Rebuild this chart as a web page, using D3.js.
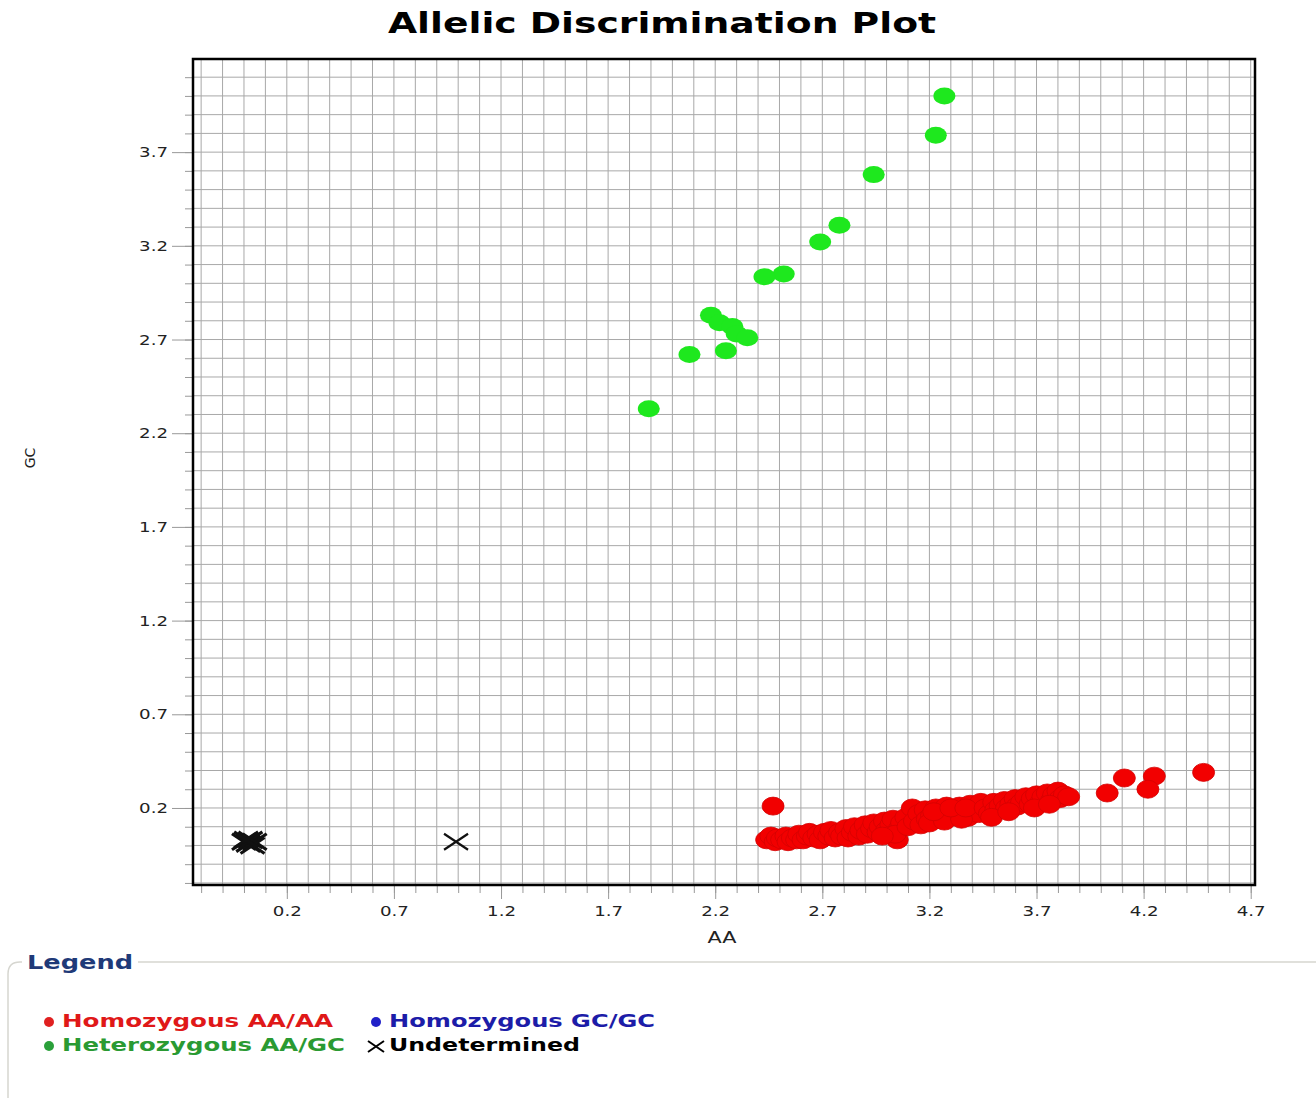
<!DOCTYPE html>
<html>
<head>
<meta charset="utf-8">
<script src="https://cdn.jsdelivr.net/npm/d3@7/dist/d3.min.js"></script>
<style>
body { margin: 0; background: #fff; }
text { font-family: "DejaVu Sans", Verdana, sans-serif; }
</style>
</head>
<body>
<div class="d3-container"></div>
<script>
// AA (x) / GC (y) readings per call
const homozygousAA = [
    [2.44, 0.03], [2.46, 0.05], [2.48, 0.02], [2.49, 0.04], [2.51, 0.03], [2.53, 0.05], [2.54, 0.02], [2.56, 0.04],
    [2.58, 0.03], [2.59, 0.06], [2.61, 0.03], [2.63, 0.05], [2.64, 0.07], [2.66, 0.04], [2.68, 0.06], [2.69, 0.03],
    [2.71, 0.07], [2.73, 0.05], [2.74, 0.08], [2.76, 0.04], [2.78, 0.07], [2.79, 0.05],
    [2.81, 0.09], [2.82, 0.04], [2.84, 0.07], [2.85, 0.10], [2.87, 0.05], [2.88, 0.08], [2.90, 0.11], [2.91, 0.06],
    [2.93, 0.09], [2.94, 0.12], [2.96, 0.07], [2.97, 0.10], [2.99, 0.13], [3.00, 0.08], [3.02, 0.11], [3.03, 0.14],
    [3.05, 0.03], [3.06, 0.09], [3.07, 0.12], [3.04, 0.06], [2.98, 0.05],
    [3.09, 0.15], [3.10, 0.10], [3.12, 0.20], [3.13, 0.13], [3.15, 0.17], [3.16, 0.11], [3.18, 0.19], [3.19, 0.14],
    [3.21, 0.16], [3.23, 0.20], [3.24, 0.14], [3.26, 0.18], [3.28, 0.21], [3.29, 0.15], [3.31, 0.19], [3.33, 0.16],
    [3.34, 0.21], [3.36, 0.18], [3.38, 0.15], [3.39, 0.22], [3.41, 0.19], [3.43, 0.17], [3.44, 0.23],
    [3.20, 0.12], [3.27, 0.13], [3.35, 0.14], [3.22, 0.18], [3.30, 0.20], [3.37, 0.20],
    [3.46, 0.20], [3.48, 0.17], [3.50, 0.23], [3.51, 0.19], [3.53, 0.21], [3.55, 0.24], [3.56, 0.20], [3.58, 0.22],
    [3.60, 0.25], [3.61, 0.21], [3.63, 0.23], [3.49, 0.15], [3.57, 0.18],
    [3.65, 0.26], [3.67, 0.22], [3.68, 0.25], [3.70, 0.27], [3.72, 0.23], [3.73, 0.26], [3.75, 0.28], [3.77, 0.24],
    [3.78, 0.27], [3.80, 0.29], [3.81, 0.25], [3.83, 0.27], [3.85, 0.26], [3.69, 0.20], [3.76, 0.22],
    [2.47, 0.21], [4.03, 0.28], [4.11, 0.36], [4.25, 0.37], [4.22, 0.30], [4.48, 0.39]
]
const heterozygous = [
    [3.27, 4.00], [3.23, 3.79], [2.94, 3.58], [2.78, 3.31], [2.69, 3.22], [2.52, 3.05], [2.43, 3.035],
    [2.18, 2.83], [2.22, 2.79], [2.28, 2.77], [2.30, 2.73], [2.35, 2.71], [2.25, 2.64], [2.08, 2.62], [1.89, 2.33]
]
const homozygousGC = []
const undetermined = [
    [0.00, 0.02], [0.02, 0.01], [0.03, 0.03], [0.05, 0.02], [0.04, 0.00], [0.01, 0.03], [0.99, 0.02]
]

const xTicks = [0.2, 0.7, 1.2, 1.7, 2.2, 2.7, 3.2, 3.7, 4.2, 4.7]
const yTicks = [0.2, 0.7, 1.2, 1.7, 2.2, 2.7, 3.2, 3.7]
const legendItems = [
    { label: "Homozygous AA/AA", color: "#e01818", dot: "#e02020", col: 0, row: 0 },
    { label: "Homozygous GC/GC", color: "#1c1ca8", dot: "#2020c8", col: 1, row: 0 },
    { label: "Heterozygous AA/GC", color: "#2a9a32", dot: "#2aa03a", col: 0, row: 1 },
    { label: "Undetermined", color: "#000", dot: null, col: 1, row: 1 }
]

const W = 1316, H = 1098
const plot = { left: 193, right: 1255, top: 59, bottom: 885 }

const svg = d3.select(".d3-container").append("svg").attr("width", W).attr("height", H)

const x = d3.scaleLinear().domain([-0.238, 4.72]).range([plot.left, plot.right])
const y = d3.scaleLinear().domain([-0.211, 4.197]).range([plot.bottom, plot.top])

// 0.1 step grid
const xGrid = d3.range(-2, 48).map(d => d / 10)
const yGrid = d3.range(-2, 42).map(d => d / 10)

const grid = svg.append("g").attr("stroke", "#a8a8a8").attr("stroke-width", 1)
grid.selectAll(".gx").data(xGrid).join("line")
    .attr("x1", d => x(d)).attr("x2", d => x(d)).attr("y1", plot.top).attr("y2", plot.bottom)
grid.selectAll(".gy").data(yGrid).join("line")
    .attr("x1", plot.left).attr("x2", plot.right).attr("y1", d => y(d)).attr("y2", d => y(d))

// minor ticks
svg.append("g").attr("transform", `translate(0,${plot.bottom})`)
    .call(d3.axisBottom(x).tickValues(xGrid).tickSize(8).tickFormat(""))
    .call(g => g.select(".domain").remove())
    .selectAll("line").attr("stroke", "#999")
svg.append("g").attr("transform", `translate(${plot.left},0)`)
    .call(d3.axisLeft(y).tickValues(yGrid).tickSize(8).tickFormat(""))
    .call(g => g.select(".domain").remove())
    .selectAll("line").attr("stroke", "#999")

const xAxis = svg.append("g").attr("transform", `translate(0,${plot.bottom})`)
    .call(d3.axisBottom(x).tickValues(xTicks).tickSize(14).tickPadding(7).tickFormat(d3.format(".1f")))
xAxis.select(".domain").remove()
xAxis.selectAll("line").attr("stroke", "#999")
xAxis.selectAll("text").attr("class", "st").attr("font-size", 14).attr("fill", "#222")
    .style("font-family", "'DejaVu Sans', sans-serif")

const yAxis = svg.append("g").attr("transform", `translate(${plot.left},0)`)
    .call(d3.axisLeft(y).tickValues(yTicks).tickSize(21).tickPadding(4).tickFormat(d3.format(".1f")))
yAxis.select(".domain").remove()
yAxis.selectAll("line").attr("stroke", "#999")
yAxis.selectAll("text").attr("class", "st").attr("font-size", 14).attr("fill", "#222")
    .style("font-family", "'DejaVu Sans', sans-serif")

// marks
const mk = svg.append("g")
mk.selectAll(".aa").data(homozygousAA).join("ellipse")
    .attr("cx", d => x(d[0])).attr("cy", d => y(d[1])).attr("rx", 11).attr("ry", 9)
    .attr("fill", "#f20000").attr("stroke", "#d40000").attr("stroke-width", 0.8)
mk.selectAll(".ab").data(heterozygous).join("ellipse")
    .attr("cx", d => x(d[0])).attr("cy", d => y(d[1])).attr("rx", 11).attr("ry", 8.5).attr("fill", "#1ee81e")
mk.selectAll(".bb").data(homozygousGC).join("ellipse")
    .attr("cx", d => x(d[0])).attr("cy", d => y(d[1])).attr("rx", 11).attr("ry", 8.5).attr("fill", "#2020c8")
mk.selectAll(".un").data(undetermined).join("path")
    .attr("d", "M-12,-8L12,8M-12,8L12,-8")
    .attr("transform", d => `translate(${x(d[0])},${y(d[1])})`)
    .attr("stroke", "#111").attr("stroke-width", (d, i) => i < 6 ? 3.2 : 2.2).attr("fill", "none")

// frame
svg.append("rect").attr("x", plot.left).attr("y", plot.top)
    .attr("width", plot.right - plot.left).attr("height", plot.bottom - plot.top)
    .attr("fill", "none").attr("stroke", "#000").attr("stroke-width", 2.5)

svg.append("text").attr("class", "st").attr("x", 662).attr("y", 33).attr("text-anchor", "middle")
    .attr("font-size", 29).attr("font-weight", "bold").text("Allelic Discrimination Plot")
svg.append("text").attr("class", "st").attr("x", 722).attr("y", 943).attr("text-anchor", "middle")
    .attr("font-size", 16).attr("fill", "#222").text("AA")
svg.append("text").attr("transform", "translate(35,458) rotate(-90)").attr("text-anchor", "middle")
    .attr("font-size", 14).attr("fill", "#222").text("GC")

// legend box
svg.append("path").attr("d", `M${W},962 H20 Q8,962 8,974 V${H}`)
    .attr("fill", "none").attr("stroke", "#d6d6d0").attr("stroke-width", 1.5)
svg.append("rect").attr("x", 22).attr("y", 950).attr("width", 116).attr("height", 24).attr("fill", "#fff")
svg.append("text").attr("x", 27).attr("y", 969).attr("font-size", 20).attr("font-weight", "bold")
    .attr("fill", "#1f3a78").attr("textLength", 106).attr("lengthAdjust", "spacingAndGlyphs").text("Legend")

const colX = [62, 389], rowY = [1027, 1051], widths = { "Homozygous AA/AA": 271, "Homozygous GC/GC": 266, "Heterozygous AA/GC": 283, "Undetermined": 191 }
const lg = svg.append("g")
legendItems.forEach(it => {
    const tx = colX[it.col], ty = rowY[it.row]
    if (it.dot) {
        lg.append("circle").attr("cx", tx - 13).attr("cy", ty - 5).attr("r", 5).attr("fill", it.dot)
    } else {
        lg.append("path").attr("d", `M${tx - 21},${ty - 10}L${tx - 5},${ty + 1}M${tx - 21},${ty + 1}L${tx - 5},${ty - 10}`)
            .attr("stroke", "#000").attr("stroke-width", 2)
    }
    lg.append("text").attr("x", tx).attr("y", ty).attr("font-size", 18).attr("font-weight", "bold")
        .attr("fill", it.color).attr("textLength", widths[it.label]).attr("lengthAdjust", "spacingAndGlyphs")
        .text(it.label)
})

// source image is stretched horizontally
svg.selectAll("text.st").each(function () {
    const w = this.getComputedTextLength()
    d3.select(this).attr("textLength", w * 1.3).attr("lengthAdjust", "spacingAndGlyphs")
})
</script>
</body>
</html>
